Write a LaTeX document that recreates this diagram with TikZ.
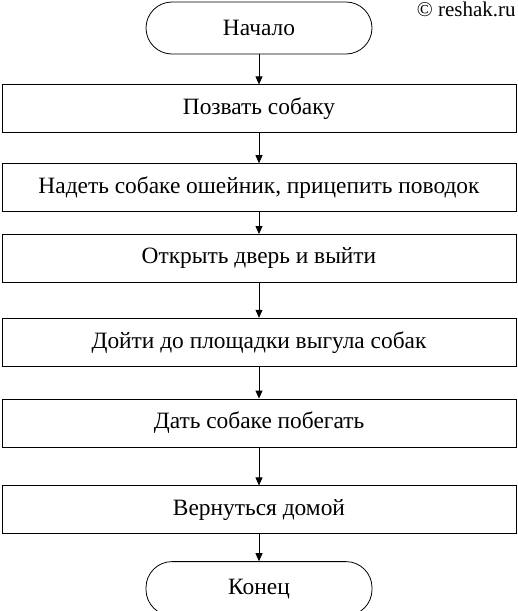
\documentclass[tikz,border=0pt]{standalone}
\usepackage{fontspec}
\setmainfont{Liberation Serif}
\usetikzlibrary{positioning,arrows.meta}

\begin{document}
\begin{tikzpicture}[
  x=1pt, y=1pt, font=\fontsize{23.4}{26}\selectfont, >={Triangle[length=8pt,width=7pt]}, line width=0.8pt,
  term/.style={draw,rounded corners=26pt,minimum width=226pt,minimum height=52pt,inner sep=0pt},
  act/.style={draw,minimum width=514pt,minimum height=48pt,inner sep=0pt}
]
\useasboundingbox (0,0) rectangle (518,-611);
\node[term] (beg) at (259,-28) {Начало};
\node[act,below=30pt of beg] (call) {Позвать собаку};
\node[act,below=30pt of call] (collar) {Надеть собаке ошейник, прицепить поводок};
\node[act,below=22pt of collar] (door) {Открыть дверь и выйти};
\node[act,below=35pt of door] (walk) {Дойти до площадки выгула собак};
\node[act,below=32pt of walk] (run) {Дать собаке побегать};
\node[act,below=38pt of run] (home) {Вернуться домой};
\node[term,minimum height=54pt,below=27pt of home] (fin) {Конец};
\node[anchor=base east,inner sep=0pt,font=\fontsize{21}{24}\selectfont] (copy) at (516,-16.5) {© reshak.ru};
\draw[->] (beg) -- (call);
\draw[->] (call) -- (collar);
\draw[->] (collar) -- (door);
\draw[->] (door) -- (walk);
\draw[->] (walk) -- (run);
\draw[->] (run) -- (home);
\draw[->] (home) -- (fin);
\end{tikzpicture}
\end{document}
